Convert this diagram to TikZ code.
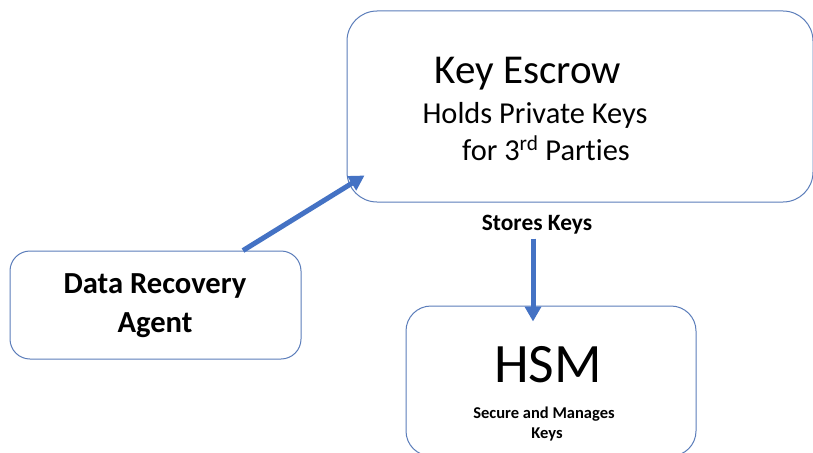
\documentclass[tikz,border=0pt]{standalone}
\usepackage{fontspec}
\setmainfont{Carlito}[Ligatures={NoCommon}]
\usetikzlibrary{arrows.meta,calc}
\definecolor{boxline}{HTML}{5B7DBA}
\definecolor{arrowblue}{HTML}{4472C4}
\begin{document}
\begin{tikzpicture}[x=1pt,y=-1pt,
  box/.style={draw=boxline, line width=1pt, fill=white, inner sep=0pt},
  conn/.style={draw=arrowblue, line width=5pt, -{Triangle[length=15pt,width=16pt]}},
  txt/.style={anchor=base, inner sep=0pt}]
\useasboundingbox (0,0) rectangle (813,452);
\clip (0,0) rectangle (813,452);
\fill[white] (0,0) rectangle (813,452);
% boxes
\node[box, rounded corners=30pt, minimum width=466pt, minimum height=191pt] (ke) at (580,106.5) {};
\node[box, rounded corners=20pt, minimum width=291pt, minimum height=108pt] (dra) at (155.5,305) {};
\node[box, rounded corners=25pt, minimum width=290pt, minimum height=150pt] (hsm) at (551,381) {};
% texts
\node[txt, font=\fontsize{41}{49}\selectfont] (ket) at (528,83) {Key Escrow};
\node[txt, font=\fontsize{30.4}{36}\selectfont] (ke2) at (535,123) {Holds Private Keys};
\node[txt, font=\fontsize{30.4}{36}\selectfont] (ke3) at (546,160) {for 3\textsuperscript{rd} Parties};
\node[txt, font=\fontsize{23.4}{28}\selectfont\bfseries] (sk) at (537,230) {Stores Keys};
\node[txt, font=\fontsize{30.6}{36}\selectfont\bfseries] (dra1) at (155,293) {Data Recovery};
\node[txt, font=\fontsize{30.6}{36}\selectfont\bfseries] (dra2) at (155,332) {Agent};
\node[txt, font=\fontsize{55.6}{66}\selectfont] (hsmt) at (548,382) {HSM};
\node[txt, font=\fontsize{16.5}{20}\selectfont\bfseries] (hs1) at (544,418) {Secure and Manages};
\node[txt, font=\fontsize{16.5}{20}\selectfont\bfseries] (hs2) at (547,438) {Keys};
% connectors
\draw[conn] ([xshift=87.5pt]dra.north) -- ($(ke.south west)+(18,-27)$);
\draw[conn] ($(hsm.north)+(-18,-67)$) -- ($(hsm.north)+(-18,16)$);
\end{tikzpicture}
\end{document}
